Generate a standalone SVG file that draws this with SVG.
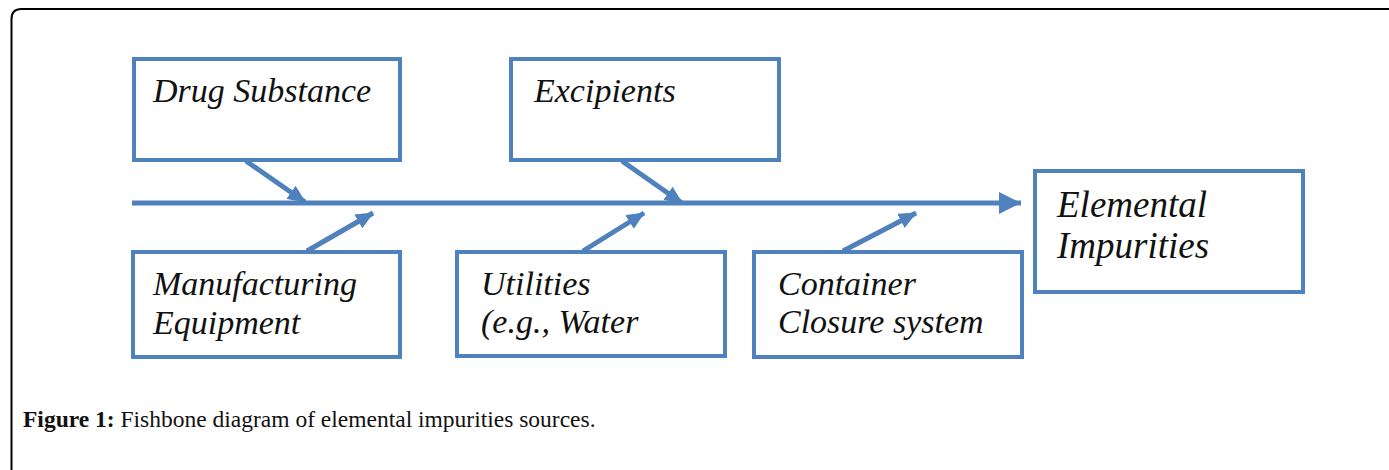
<svg xmlns="http://www.w3.org/2000/svg" width="1389" height="470" viewBox="0 0 1389 470">
<style>
.box{fill:#fff;stroke:#4F81BD;stroke-width:4}
.lbl{font-family:"Liberation Serif","Times New Roman",serif;font-style:italic;font-size:34px;fill:#111}
.big{font-size:37px}
.con{stroke:#4F81BD;stroke-width:5;fill:none}
.cap{font-family:"Liberation Serif","Times New Roman",serif;font-size:23.5px;fill:#111}
</style>
<defs>
<marker id="ah" markerUnits="userSpaceOnUse" markerWidth="18" markerHeight="16" refX="17" refY="8" orient="auto">
<polygon points="0,0 18,8 0,16" fill="#4F81BD"/>
</marker>
<marker id="big" markerUnits="userSpaceOnUse" markerWidth="22" markerHeight="22" refX="22" refY="11" orient="auto">
<polygon points="0,0 22,11 0,22" fill="#4F81BD"/>
</marker>
</defs>
<rect width="1389" height="470" fill="#fff"/>
<path d="M11.5 480 V19 Q11.5 9 21.5 9 H1400" fill="none" stroke="#000" stroke-width="2"/>
<g id="connectors">
<line class="con" x1="132" y1="203" x2="1021" y2="203" stroke-width="6.5" marker-end="url(#big)"/>
<line class="con" x1="246" y1="161" x2="305" y2="202" marker-end="url(#ah)"/>
<line class="con" x1="307" y1="251" x2="373" y2="213" marker-end="url(#ah)"/>
<line class="con" x1="622" y1="161" x2="682" y2="203" marker-end="url(#ah)"/>
<line class="con" x1="583" y1="251" x2="644" y2="213" marker-end="url(#ah)"/>
<line class="con" x1="843" y1="251" x2="916" y2="213" marker-end="url(#ah)"/>
</g>
<g id="drug-substance">
<rect class="box" x="134" y="59" width="266" height="101"/>
<text class="lbl" x="153" y="102">Drug Substance</text>
</g>
<g id="excipients">
<rect class="box" x="511" y="59" width="268" height="101"/>
<text class="lbl" x="534" y="102">Excipients</text>
</g>
<g id="manufacturing-equipment">
<rect class="box" x="133" y="252" width="267" height="105"/>
<text class="lbl" x="153" y="295">Manufacturing</text>
<text class="lbl" x="153" y="334">Equipment</text>
</g>
<g id="utilities">
<rect class="box" x="457" y="252" width="268" height="104"/>
<text class="lbl" x="481" y="295">Utilities</text>
<text class="lbl" x="481" y="333">(e.g., Water</text>
</g>
<g id="container-closure">
<rect class="box" x="754" y="252" width="268" height="105"/>
<text class="lbl" x="778" y="295">Container</text>
<text class="lbl" x="778" y="333">Closure system</text>
</g>
<g id="elemental-impurities">
<rect class="box" x="1035" y="171" width="268" height="121"/>
<text class="lbl big" x="1057" y="217">Elemental</text>
<text class="lbl big" x="1057" y="258">Impurities</text>
</g>
<text class="cap" x="23" y="427"><tspan font-weight="bold">Figure 1:</tspan> Fishbone diagram of elemental impurities sources.</text>
</svg>
